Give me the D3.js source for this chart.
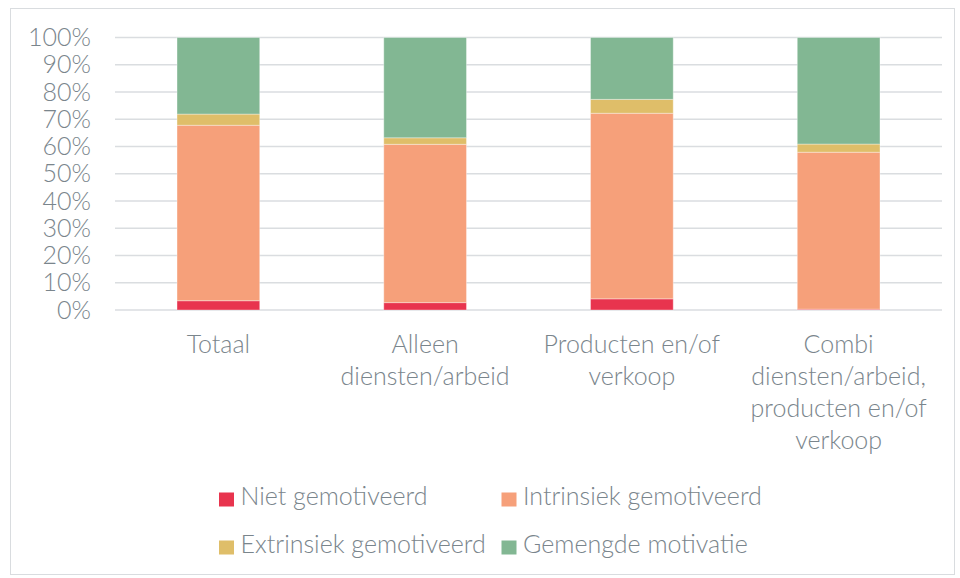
<!DOCTYPE html>
<html>
<head>
<meta charset="utf-8">
<script src="https://cdn.jsdelivr.net/npm/d3@7"></script>
<style>
body { margin: 0; background: #fff; }
text { font-family: Lato, "Open Sans", sans-serif; fill: #7a858c; font-weight: 300; }
</style>
</head>
<body>
<div id="content"></div>
<script>
var categories = [
	["Totaal"],
	["Alleen", "diensten/arbeid"],
	["Producten en/of", "verkoop"],
	["Combi", "diensten/arbeid,", "producten en/of", "verkoop"]
];
var series = ["Niet gemotiveerd", "Intrinsiek gemotiveerd", "Extrinsiek gemotiveerd", "Gemengde motivatie"];
var colors = ["#e8344e", "#f6a07a", "#dfbe69", "#82b793"];

// percentages per category, in series order
var niet = [3.4, 2.7, 4.1, 0.3];
var intrinsiek = [64.4, 58.1, 68.1, 57.6];
var extrinsiek = [4.1, 2.4, 5.1, 3.0];
var gemengd = [28.1, 36.8, 22.7, 39.1];

var yTicks = [0, 10, 20, 30, 40, 50, 60, 70, 80, 90, 100];

var margin = {top: 37.5, left: 115, right: 18, bottom: 268};
var W = 960, H = 578;
var width = W - margin.left - margin.right;
var height = H - margin.top - margin.bottom;
var fontSize = "25px";

var svg = d3.select("#content").append("svg").attr("width", W).attr("height", H);

svg.append("rect").attr("x", 10.5).attr("y", 8.5).attr("width", 944).attr("height", 566)
	.style("fill", "none").style("stroke", "#d9dcdf").style("stroke-width", 1);

var g = svg.append("g").attr("transform", "translate(" + margin.left + "," + margin.top + ")");

var names = categories.map(function (c) { return c.join(" "); });
var x = d3.scaleBand().domain(names).range([0, width]).paddingInner(0.6).paddingOuter(0.3);
var y = d3.scaleLinear().domain([0, 100]).range([height, 0]);

// gridlines
g.selectAll("line.grid").data(yTicks).enter().append("line")
	.attr("class", "grid")
	.attr("x1", 0).attr("x2", width)
	.attr("y1", function (d) { return y(d); }).attr("y2", function (d) { return y(d); })
	.style("stroke", "#dadde0").style("stroke-width", 1.5);

var yAxis = d3.axisLeft(y).tickValues(yTicks).tickSize(0).tickPadding(24)
	.tickFormat(function (d) { return d + "%"; });
var ya = g.append("g").call(yAxis);
ya.select(".domain").remove();
ya.selectAll("text").style("font-size", fontSize).style("fill", "#7a858c")
	.style("font-family", "Lato, 'Open Sans', sans-serif").style("font-weight", 300);

// stacked bars
var rows = names.map(function (n, i) {
	return {cat: n, s0: niet[i], s1: intrinsiek[i], s2: extrinsiek[i], s3: gemengd[i]};
});
var stack = d3.stack().keys(["s0", "s1", "s2", "s3"]);
var layers = stack(rows);

g.selectAll("g.layer").data(layers).enter().append("g")
	.attr("class", "layer")
	.style("fill", function (d, i) { return colors[i]; })
	.selectAll("rect").data(function (d) { return d; }).enter().append("rect")
	.attr("x", function (d) { return x(d.data.cat); })
	.attr("width", x.bandwidth())
	.attr("y", function (d) { return y(d[1]); })
	.attr("height", function (d) { return y(d[0]) - y(d[1]); })
	.style("stroke", "rgba(255,255,255,0.35)").style("stroke-width", 1);

// category labels
categories.forEach(function (lines, i) {
	var t = g.append("text")
		.attr("x", x(names[i]) + x.bandwidth() / 2)
		.attr("y", height + 43)
		.attr("text-anchor", "middle")
		.style("font-size", fontSize);
	lines.forEach(function (l, j) {
		t.append("tspan").attr("x", x(names[i]) + x.bandwidth() / 2)
			.attr("dy", j === 0 ? 0 : 32).text(l);
	});
});

// legend
var legendPos = [[219, 505], [501.5, 505], [219, 553], [501.5, 553]];
series.forEach(function (s, i) {
	var lg = svg.append("g").attr("transform", "translate(" + legendPos[i][0] + "," + legendPos[i][1] + ")");
	lg.append("rect").attr("x", 0).attr("y", -12.5).attr("width", 15).attr("height", 14).style("fill", colors[i]);
	lg.append("text").attr("x", 21.5).attr("y", 0).style("font-size", fontSize).text(s);
});
</script>
</body>
</html>
